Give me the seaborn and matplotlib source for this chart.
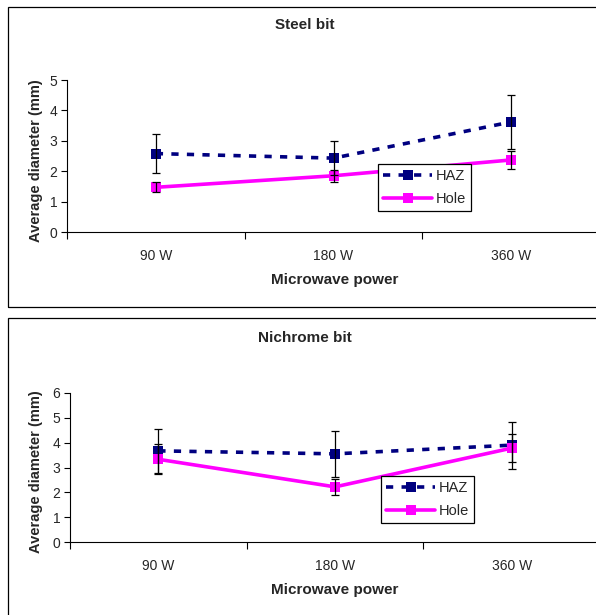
import matplotlib
matplotlib.use("Agg")
import matplotlib.pyplot as plt
import seaborn as sns
import pandas as pd
from matplotlib.lines import Line2D
from matplotlib.patches import Rectangle


# ------------------------------------------------
# DATA
# ------------------------------------------------

powers = ["90 W", "180 W", "360 W"]
series = ["HAZ", "Hole"]

steel_haz = [2.58, 2.43, 3.62]
steel_haz_err = [0.63, 0.57, 0.90]
steel_hole = [1.47, 1.85, 2.37]
steel_hole_err = [0.16, 0.20, 0.29]

nichrome_haz = [3.67, 3.55, 3.90]
nichrome_haz_err = [0.90, 0.92, 0.95]
nichrome_hole = [3.33, 2.22, 3.78]
nichrome_hole_err = [0.60, 0.33, 0.55]

HAZ_COLOR = "#000080"
HOLE_COLOR = "#FF00FF"


sns.set_theme(style="white")
plt.rcParams["font.family"] = ["Liberation Sans", "DejaVu Sans"]

W, H = 596, 615
fig = plt.figure(figsize=(W / 100, H / 100), dpi=100)


def fx(px):
    return px / W


def fy(py):
    return 1 - py / H


def make_frame(ax, values, y_top):
    haz, haz_err, hole, hole_err = values
    df = pd.DataFrame({
        "pos": list(range(len(powers))) * 2,
        "value": haz + hole,
        "series": [series[0]] * len(powers) + [series[1]] * len(powers),
    })

    sns.lineplot(
        data=df, x="pos", y="value", hue="series", style="series",
        palette={"HAZ": HAZ_COLOR, "Hole": HOLE_COLOR},
        dashes={"HAZ": (2, 2.3), "Hole": ""},
        markers={"HAZ": "s", "Hole": "s"},
        markersize=7, markeredgewidth=0, linewidth=2.6,
        legend=False, ax=ax, zorder=2,
    )

    pos = list(range(len(powers)))
    ax.errorbar(pos, haz, yerr=haz_err, fmt="none", ecolor="black",
                elinewidth=0.9, capsize=3, capthick=0.9, zorder=3)
    ax.errorbar(pos, hole, yerr=hole_err, fmt="none", ecolor="black",
                elinewidth=0.9, capsize=3, capthick=0.9, zorder=3)

    ax.set_xlim(-0.5, len(powers) - 0.5)
    ax.set_ylim(0, y_top)
    ax.set_yticks(range(0, y_top + 1))
    ax.set_xticks([p - 0.5 for p in range(len(powers) + 1)])
    ax.set_xticklabels([])
    ax.set_xticks(pos, minor=True)
    ax.set_xticklabels(powers, minor=True)
    ax.tick_params(axis="x", which="major", direction="out", length=5,
                   width=0.8, color="black", bottom=True)
    ax.tick_params(axis="x", which="minor", length=0, pad=12,
                   labelsize=10)
    ax.tick_params(axis="y", direction="out", length=4, width=0.8,
                   color="black", left=True, labelsize=10, pad=3)
    for side in ["top", "right"]:
        ax.spines[side].set_visible(False)
    for side in ["left", "bottom"]:
        ax.spines[side].set_color("black")
        ax.spines[side].set_linewidth(0.8)
    ax.set_xlabel("")
    ax.set_ylabel("")
    ax.patch.set_alpha(0)


def add_legend(ax, left_px, top_px):
    handles = [
        Line2D([], [], color=HAZ_COLOR, lw=2.6, dashes=(2, 2.3),
               marker="s", markersize=7.5, markeredgewidth=0),
        Line2D([], [], color=HOLE_COLOR, lw=2.6, marker="s",
               markersize=7.5, markeredgewidth=0),
    ]
    leg = ax.legend(
        handles, series, loc="upper left",
        bbox_to_anchor=(fx(left_px), fy(top_px)),
        bbox_transform=fig.transFigure, borderaxespad=0,
        frameon=True, fancybox=False, edgecolor="black",
        framealpha=1, fontsize=10.5, handlelength=3.35, handletextpad=0.25,
        borderpad=0.35, labelspacing=0.62,
    )
    leg.get_frame().set_linewidth(0.9)


# panel frames
fig.add_artist(Rectangle((fx(8), fy(307)), fx(640), fy(7) - fy(307),
                         transform=fig.transFigure, fill=False,
                         edgecolor="black", linewidth=0.9))
fig.add_artist(Rectangle((fx(8), fy(640)), fx(640), fy(318) - fy(640),
                         transform=fig.transFigure, fill=False,
                         edgecolor="black", linewidth=0.9))

# ------------------------------------------------
# STEEL BIT
# ------------------------------------------------
ax1 = fig.add_axes([fx(67), fy(232), fx(600) - fx(67), fy(80) - fy(232)])
make_frame(ax1, (steel_haz, steel_haz_err, steel_hole, steel_hole_err), 5)
add_legend(ax1, 378, 164)
fig.text(fx(305), fy(25), "Steel bit", ha="center", va="center",
         fontsize=11, fontweight="bold")
fig.text(fx(335), fy(280), "Microwave power", ha="center", va="center",
         fontsize=11, fontweight="bold")
fig.text(fx(36), fy(161), "Average diameter (mm)", ha="center",
         va="center", rotation=90, fontsize=10.5, fontweight="bold")

# ------------------------------------------------
# NICHROME BIT
# ------------------------------------------------
ax2 = fig.add_axes([fx(70), fy(542), fx(600) - fx(70), fy(393) - fy(542)])
make_frame(ax2, (nichrome_haz, nichrome_haz_err, nichrome_hole,
                 nichrome_hole_err), 6)
add_legend(ax2, 381, 476)
fig.text(fx(305), fy(338), "Nichrome bit", ha="center", va="center",
         fontsize=11, fontweight="bold")
fig.text(fx(335), fy(590), "Microwave power", ha="center", va="center",
         fontsize=11, fontweight="bold")
fig.text(fx(36), fy(472), "Average diameter (mm)", ha="center",
         va="center", rotation=90, fontsize=10.5, fontweight="bold")

fig.savefig("out.png", dpi=100)
